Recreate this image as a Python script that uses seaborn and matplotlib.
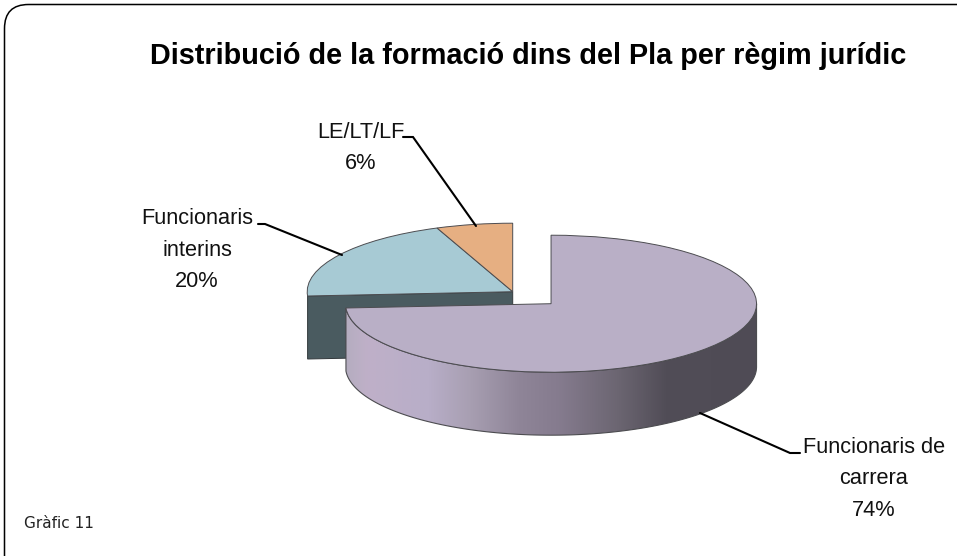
import numpy as np
import seaborn as sns
from matplotlib import pyplot as plt
from matplotlib.colors import LinearSegmentedColormap
from matplotlib.patches import FancyBboxPatch, Polygon, Rectangle

# data
categories = ["Funcionaris de\ncarrera", "Funcionaris\ninterins", "LE/LT/LF"]
shares = [74, 20, 6]
title = "Distribució de la formació dins del Pla per règim jurídic"
footnote = "Gràfic 11"

sns.set_theme(style="white")
plt.rcParams["font.family"] = ["Liberation Sans", "DejaVu Sans"]

W, H = 964, 556
SQUASH = 3.0      # pie units per pixel in y, flattens the circle
DEPTH = 63 * SQUASH
colors = sns.color_palette(["#b9afc6", "#a7cad4", "#e6af82"])
face_dark = "#4a5b60"
edge = "#4c4c50"

fig = plt.figure(figsize=(W / 100, H / 100), dpi=100, facecolor="white")

# pie axes: x in pixels, y stretched by SQUASH
pie_ax = fig.add_axes([0, 0, 1, 1])
wedges, _ = pie_ax.pie(shares, colors=colors, startangle=90, counterclock=False,
                       radius=205.5, center=(512.7, (H - 291.7) * SQUASH),
                       explode=[52.6, 0, 0],
                       wedgeprops={"edgecolor": edge, "linewidth": 0.7})
big, blue, orange = wedges
pie_ax.set_aspect("auto")
pie_ax.set_xlim(0, W)
pie_ax.set_ylim(0, H * SQUASH)


def rim(w, t):
    t = np.radians(t)
    return w.center[0] + w.r * np.cos(t), w.center[1] + w.r * np.sin(t)


# cut face under the blue slice
rx, ry = rim(blue, blue.theta2)
cx, cy = blue.center
pie_ax.add_patch(Polygon([(cx, cy), (rx, ry), (rx, ry - DEPTH), (cx, cy - DEPTH)],
                         facecolor=face_dark, edgecolor="#33393c", linewidth=0.7, zorder=1))
blue.set_zorder(2)
orange.set_zorder(2)

# shaded side wall of the big slice
theta = np.linspace(big.theta1, 0, 200)
xs, ys = rim(big, theta)
wall = np.vstack([np.column_stack([xs, ys]), np.column_stack([xs, ys - DEPTH])[::-1]])
wall_patch = Polygon(wall, facecolor="none", edgecolor=edge, linewidth=0.8, zorder=4)
pie_ax.add_patch(wall_patch)
shade = LinearSegmentedColormap.from_list("shade", [
    (0.00, "#b5adc0"), (0.05, "#bfb0c8"), (0.20, "#b8aec8"), (0.30, "#a89fb2"),
    (0.42, "#8f8598"), (0.52, "#857b8e"), (0.66, "#6c6672"), (0.78, "#514d57"),
    (1.00, "#4f4b55")])
img = pie_ax.imshow(np.linspace(0, 1, 256)[None, :], cmap=shade, aspect="auto", zorder=3,
                    extent=(xs.min(), xs.max(), (ys - DEPTH).min(), ys.max()))
img.set_clip_path(Polygon(wall, transform=pie_ax.transData))
big.set_zorder(5)
pie_ax.set_xlim(0, W)
pie_ax.set_ylim(0, H * SQUASH)

# overlay in image pixels for frame, text and leader lines
ax = fig.add_axes([0, 0, 1, 1], facecolor="none")
ax.set_xlim(0, W)
ax.set_ylim(H, 0)
ax.axis("off")

frame = FancyBboxPatch((4.5, 4.5), 1000, 580, boxstyle="round,pad=0,rounding_size=24",
                       facecolor="none", edgecolor="black", linewidth=1.1)
ax.add_patch(frame)
frame.set_clip_path(Rectangle((0, 0), 957, H, transform=ax.transData))

ax.text(528.5, 56, title, ha="center", va="center", fontsize=20.8, fontweight="bold", color="black")
ax.text(24, 524, footnote, ha="left", va="center", fontsize=11, color="#222222",
        family="DejaVu Sans")

label_pos = [(874, 479), (197, 250), (361, 148)]
for name, share, (lx, ly) in zip(categories, shares, label_pos):
    ax.text(lx, ly, f"{name}\n{share}%", ha="center", va="center", fontsize=15.7,
            color="#111111", linespacing=1.63)

leaders = [[(700, 413), (790, 453), (800, 453)],
           [(258, 224), (265, 224), (342, 255)],
           [(403, 137), (413, 137), (476, 226)]]
for pts in leaders:
    ax.plot(*zip(*pts), color="black", linewidth=1.5, solid_joinstyle="miter")

fig.savefig("out.png", dpi=100)
